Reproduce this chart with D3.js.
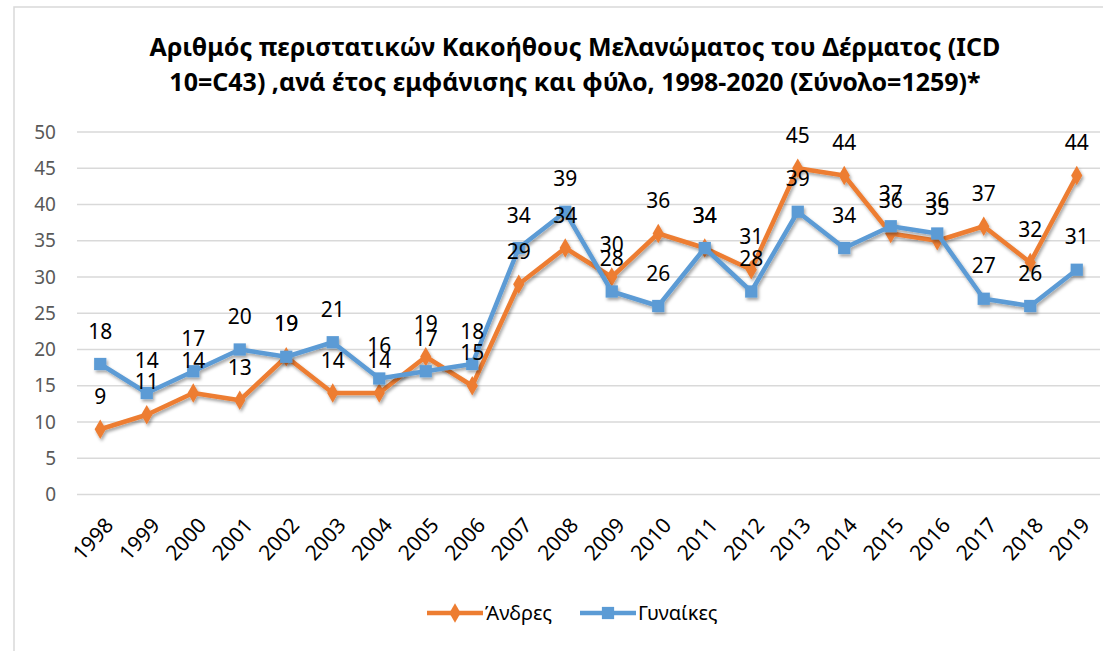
<!DOCTYPE html>
<meta charset="utf-8">
<style>
  body { margin: 0; background: #fff; }
  svg { display: block; font-family: "Noto Sans", "Open Sans", sans-serif; }
</style>
<script src="https://d3js.org/d3.v7.min.js"></script>
<div id="chart"></div>
<script>
  // data
  var years = ["1998","1999","2000","2001","2002","2003","2004","2005","2006","2007","2008",
               "2009","2010","2011","2012","2013","2014","2015","2016","2017","2018","2019"];
  var andres = [9,11,14,13,19,14,14,19,15,29,34,30,36,34,31,45,44,36,35,37,32,44];
  var gynaikes = [18,14,17,20,19,21,16,17,18,34,39,28,26,34,28,39,34,37,36,27,26,31];
  var yTicks = [0,5,10,15,20,25,30,35,40,45,50];
  var titleLines = ["Αριθμός περιστατικών Κακοήθους Μελανώματος του Δέρματος (ICD",
                    "10=C43) ,ανά έτος εμφάνισης και φύλο, 1998-2020 (Σύνολο=1259)*"];

  var W = 1103, H = 651;
  var svg = d3.select("#chart").append("svg")
      .attr("width", W).attr("height", H);

  // soft shadow like the excel line effect
  var defs = svg.append("defs");
  defs.append("filter").attr("id", "shadow")
      .attr("x", "-10%").attr("y", "-10%").attr("width", "120%").attr("height", "130%")
    .append("feDropShadow")
      .attr("dx", 1.5).attr("dy", 2.5).attr("stdDeviation", 1.5)
      .attr("flood-color", "#000").attr("flood-opacity", 0.35);

  // chart border
  svg.append("rect")
      .attr("x", 14).attr("y", 7).attr("width", W).attr("height", H)
      .attr("fill", "none").attr("stroke", "#d9d9d9").attr("stroke-width", 1.5);

  // title
  svg.append("g").selectAll("text").data(titleLines).enter().append("text")
      .attr("x", 575).attr("y", function(d, i) { return 56 + i * 35; })
      .attr("text-anchor", "middle")
      .style("font-size", "25px").style("font-weight", "bold").style("fill", "#000")
      .text(function(d) { return d; });

  var x = d3.scalePoint().domain(years).range([77, 1100]).padding(0.5);
  var y = d3.scaleLinear().domain([0, 50]).range([494.5, 132]);

  // gridlines
  svg.append("g").selectAll("line").data(yTicks).enter().append("line")
      .attr("x1", 77).attr("x2", 1100)
      .attr("y1", function(d) { return y(d); }).attr("y2", function(d) { return y(d); })
      .attr("stroke", "#d9d9d9").attr("stroke-width", 1.5);

  // y labels
  svg.append("g").selectAll("text").data(yTicks).enter().append("text")
      .attr("x", 56).attr("y", function(d) { return y(d); })
      .attr("dy", "0.35em").attr("text-anchor", "end")
      .style("font-size", "19px").style("fill", "#595959")
      .text(function(d) { return d; });

  // x labels, rotated
  svg.append("g").selectAll("text").data(years).enter().append("text")
      .attr("transform", function(d) { return "translate(" + (x(d) + 3) + ",516) rotate(-48)"; })
      .attr("dy", "0.72em").attr("text-anchor", "end")
      .style("font-size", "21px").style("fill", "#000")
      .text(function(d) { return d; });

  var series = [
    {name: "Άνδρες", values: andres, color: "#ED7D31", shape: d3.symbolDiamond, size: 110},
    {name: "Γυναίκες", values: gynaikes, color: "#5B9BD5", shape: d3.symbolSquare, size: 150}
  ];

  var line = d3.line()
      .x(function(d, i) { return x(years[i]); })
      .y(function(d) { return y(d); });

  series.forEach(function(s) {
    var g = svg.append("g").attr("filter", "url(#shadow)");
    g.append("path").datum(s.values)
        .attr("d", line).attr("fill", "none")
        .attr("stroke", s.color).attr("stroke-width", 4.5).attr("stroke-linejoin", "round");
    g.selectAll("path.m").data(s.values).enter().append("path")
        .attr("class", "m")
        .attr("transform", function(d, i) { return "translate(" + x(years[i]) + "," + y(d) + ")"; })
        .attr("d", d3.symbol().type(s.shape).size(s.size))
        .attr("fill", s.color);
  });

  // data labels on top
  series.forEach(function(s) {
    svg.append("g").selectAll("text").data(s.values).enter().append("text")
        .attr("x", function(d, i) { return x(years[i]); })
        .attr("y", function(d) { return y(d) - 33; })
        .attr("dy", "0.36em").attr("text-anchor", "middle")
        .style("font-size", "21px").style("fill", "#000")
        .text(function(d) { return d; });
  });

  // legend
  var legend = svg.append("g");
  var lx = [427, 580];
  series.forEach(function(s, i) {
    var g = legend.append("g").attr("transform", "translate(" + lx[i] + ",613)");
    g.append("line").attr("x1", 0).attr("x2", 56)
        .attr("stroke", s.color).attr("stroke-width", 4.5);
    g.append("path").attr("transform", "translate(28,0)")
        .attr("d", d3.symbol().type(s.shape).size(s.size)).attr("fill", s.color);
    g.append("text").attr("x", 58).attr("dy", "0.35em")
        .style("font-size", "20px").style("fill", "#000")
        .text(s.name);
  });
</script>
